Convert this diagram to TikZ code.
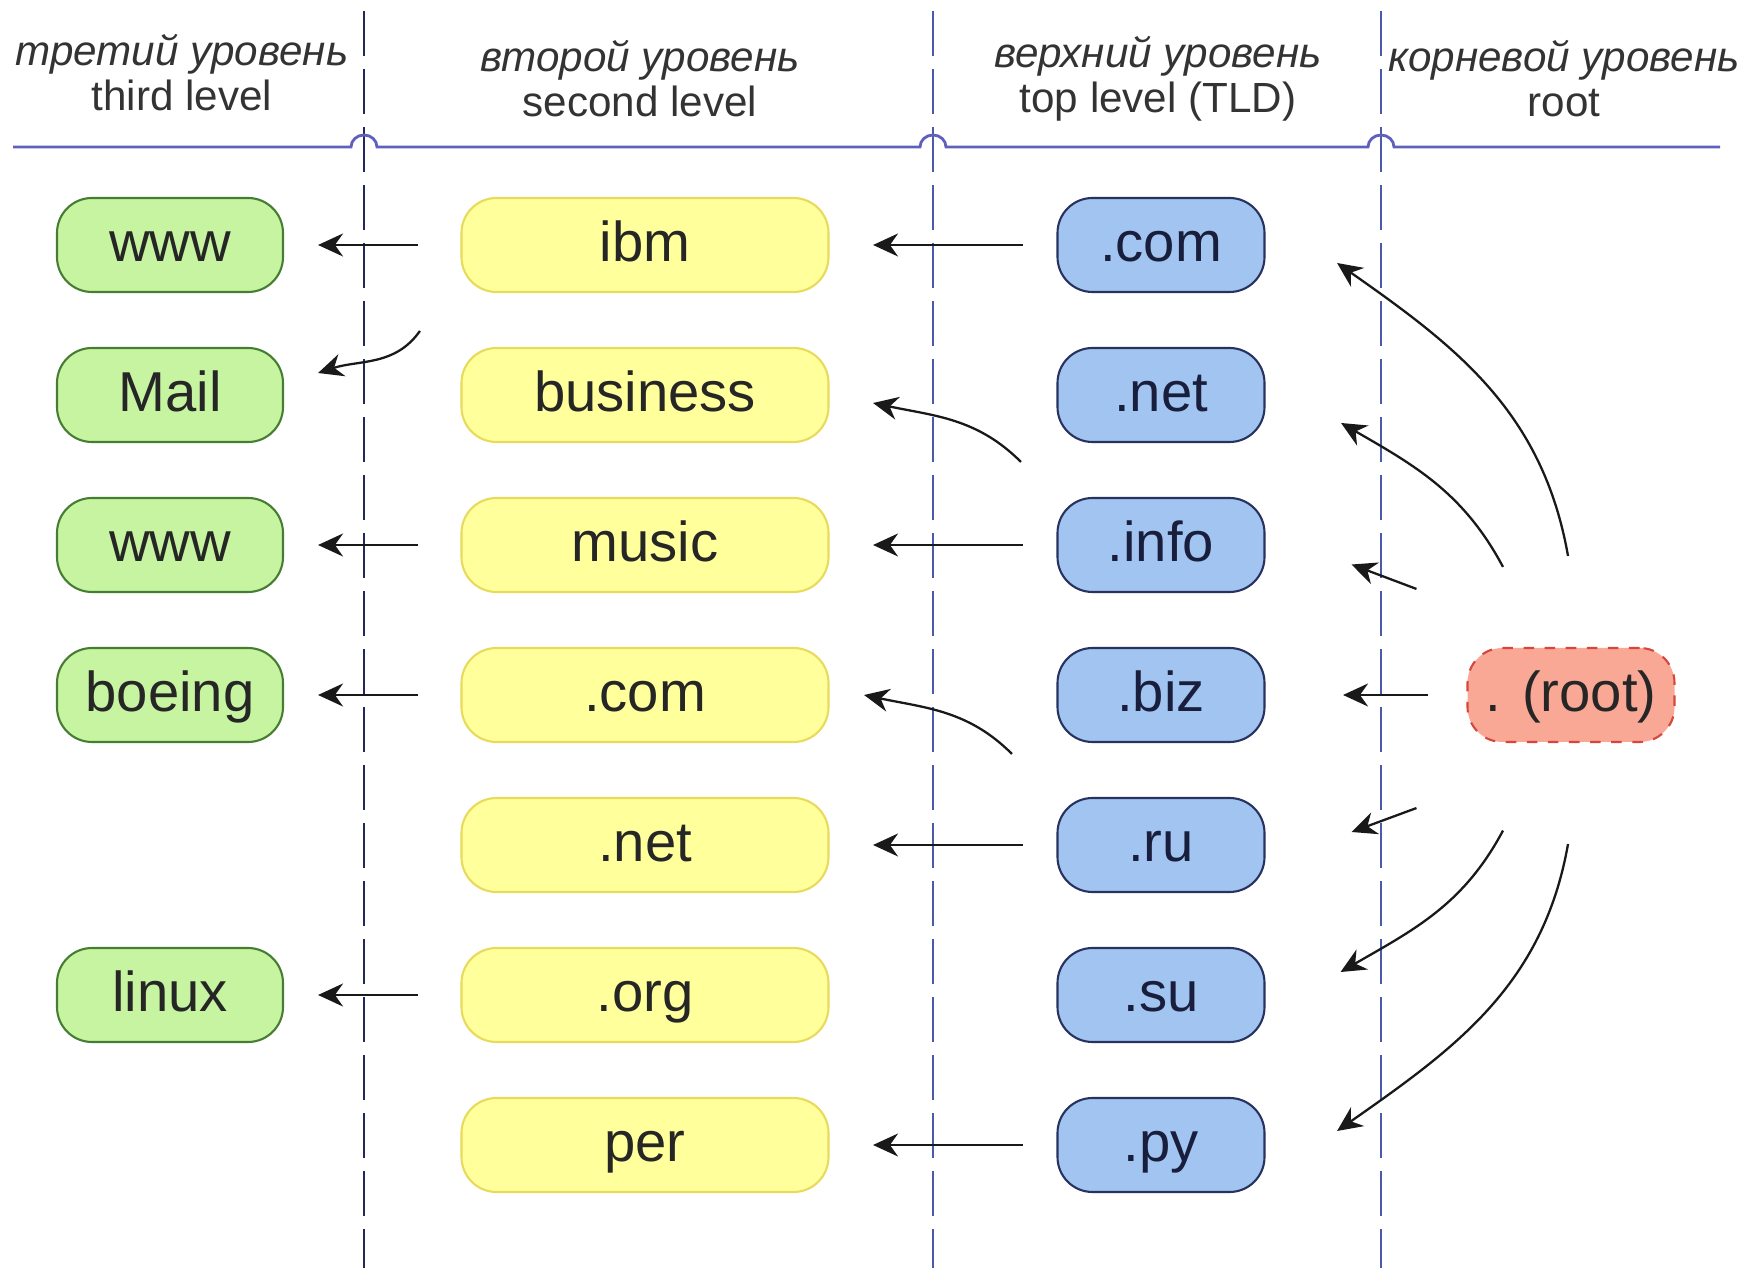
\documentclass[tikz,border=0pt]{standalone}
\usepackage{fontspec}
\setmainfont{Liberation Sans}
\usetikzlibrary{arrows.meta}

\definecolor{greenfill}{RGB}{198,244,160}
\definecolor{greenline}{RGB}{70,125,50}
\definecolor{yellowfill}{RGB}{255,255,155}
\definecolor{yellowline}{RGB}{232,218,90}
\definecolor{bluefill}{RGB}{162,196,240}
\definecolor{blueline}{RGB}{40,50,95}
\definecolor{bluetext}{RGB}{25,30,60}
\definecolor{redfill}{RGB}{250,168,150}
\definecolor{redline}{RGB}{215,70,60}
\definecolor{navyline}{RGB}{35,40,90}
\definecolor{sepline}{RGB}{75,90,170}
\definecolor{ruleline}{RGB}{95,95,190}

\begin{document}
\begin{tikzpicture}[
  box/.style={draw, rounded corners=0.35cm, minimum height=0.94cm, inner sep=0pt,
    text height=11.5pt, text depth=2pt,
    line width=0.6pt, text=black!85, font=\fontsize{16}{19}\selectfont},
  third/.style={box, draw=greenline, fill=greenfill, minimum width=2.26cm},
  second/.style={box, draw=yellowline, fill=yellowfill, minimum width=3.67cm},
  toplvl/.style={box, draw=blueline, fill=bluefill, text=bluetext, minimum width=2.07cm},
  rootbox/.style={box, draw=redline, fill=redfill, dashed, minimum width=2.07cm},
  head/.style={align=center, text=black!80, font=\fontsize{12}{12.8}\selectfont},
  bound/.style={line width=0.6pt, dash pattern=on 0.45cm off 0.13cm},
  link/.style={draw, line width=0.65pt, black!90, -{Stealth[length=2.5mm,width=2.3mm]}},
  hopthird/.style={link, shorten <=4.25mm, shorten >=3.4mm},
  hopsecond/.style={link, shorten <=3.35mm, shorten >=4.35mm},
]
\useasboundingbox (0,0) rectangle (17.46,-12.68);

% headers
\node[head] (h3) at (1.82,-0.73) {\itshape третий уровень\\third level};
\node[head] (h2) at (6.40,-0.79) {\itshape второй уровень\\second level};
\node[head] (h1) at (11.58,-0.79) {\itshape верхний уровень\\top level (TLD)};
\node[head] (h0) at (15.64,-0.79) {\itshape корневой уровень\\root};

% level borders
\draw[bound, draw=navyline] (3.64,-0.11) -- (3.64,-12.68);
\draw[bound, draw=sepline] (9.33,-0.11) -- (9.33,-12.68);
\draw[bound, draw=sepline] (13.81,-0.11) -- (13.81,-12.68);
\draw[line width=0.8pt, ruleline] (0.13,-1.47) -- (3.51,-1.47)
  arc[start angle=180, end angle=0, x radius=0.13, y radius=0.12] -- (9.20,-1.47)
  arc[start angle=180, end angle=0, x radius=0.13, y radius=0.12] -- (13.68,-1.47)
  arc[start angle=180, end angle=0, x radius=0.13, y radius=0.12] -- (17.20,-1.47);

% third level
\node[third] (www1) at (1.70,-2.45) {www};
\node[third] (mail) at (1.70,-3.95) {Mail};
\node[third] (www2) at (1.70,-5.45) {www};
\node[third] (boeing) at (1.70,-6.95) {boeing};
\node[third] (linux) at (1.70,-9.95) {linux};

% second level
\node[second] (ibm) at (6.45,-2.45) {ibm};
\node[second] (business) at (6.45,-3.95) {business};
\node[second] (music) at (6.45,-5.45) {music};
\node[second] (com2) at (6.45,-6.95) {.com};
\node[second] (net2) at (6.45,-8.45) {.net};
\node[second] (org) at (6.45,-9.95) {.org};
\node[second] (per) at (6.45,-11.45) {per};

% top level
\node[toplvl] (com) at (11.61,-2.45) {.com};
\node[toplvl] (net) at (11.61,-3.95) {.net};
\node[toplvl] (info) at (11.61,-5.45) {.info};
\node[toplvl] (biz) at (11.61,-6.95) {.biz};
\node[toplvl] (ru) at (11.61,-8.45) {.ru};
\node[toplvl] (su) at (11.61,-9.95) {.su};
\node[toplvl] (py) at (11.61,-11.45) {.py};

% root
\node[rootbox] (root) at (15.71,-6.95) {. (root)};

% second -> third
\path[hopthird] (ibm) -- (www1);
\path[link] ([shift={(-0.405,0.16)}]business.north west) to[out=-125,in=18] ([shift={(0.34,0.22)}]mail.east);
\path[hopthird] (music) -- (www2);
\path[hopthird] (com2) -- (boeing);
\path[hopthird] (org) -- (linux);

% top -> second
\path[hopsecond] (com) -- (ibm);
\path[link] ([shift={(-0.355,0.35)}]info.north west) to[out=135,in=-12] ([shift={(0.435,-0.08)}]business.east);
\path[hopsecond] (info) -- (music);
\path[link] ([shift={(-0.445,0.43)}]ru.north west) to[out=135,in=-12] ([shift={(0.345,0.0)}]com2.east);
\path[hopsecond] (ru) -- (net2);
\path[hopsecond] (py) -- (per);

% root -> top
\path[link] ([shift={(-0.03,0.91)}]root.north) to[out=100,in=-35] ([shift={(0.715,-0.18)}]com.east);
\path[link] ([shift={(-0.68,0.80)}]root.north) to[out=118,in=-30] ([shift={(0.755,-0.28)}]net.east);
\path[link] ([shift={(-0.5,0.58)}]root.north west) -- ([shift={(0.86,-0.195)}]info.east);
\path[link, shorten <=3.85mm, shorten >=7.75mm] (root) -- (biz);
\path[link] ([shift={(-0.5,-0.65)}]root.south west) -- ([shift={(0.86,0.13)}]ru.east);
\path[link] ([shift={(-0.68,-0.875)}]root.south) to[out=-118,in=30] ([shift={(0.75,0.23)}]su.east);
\path[link] ([shift={(-0.03,-1.01)}]root.south) to[out=-100,in=35] ([shift={(0.715,0.14)}]py.east);
\end{tikzpicture}
\end{document}
